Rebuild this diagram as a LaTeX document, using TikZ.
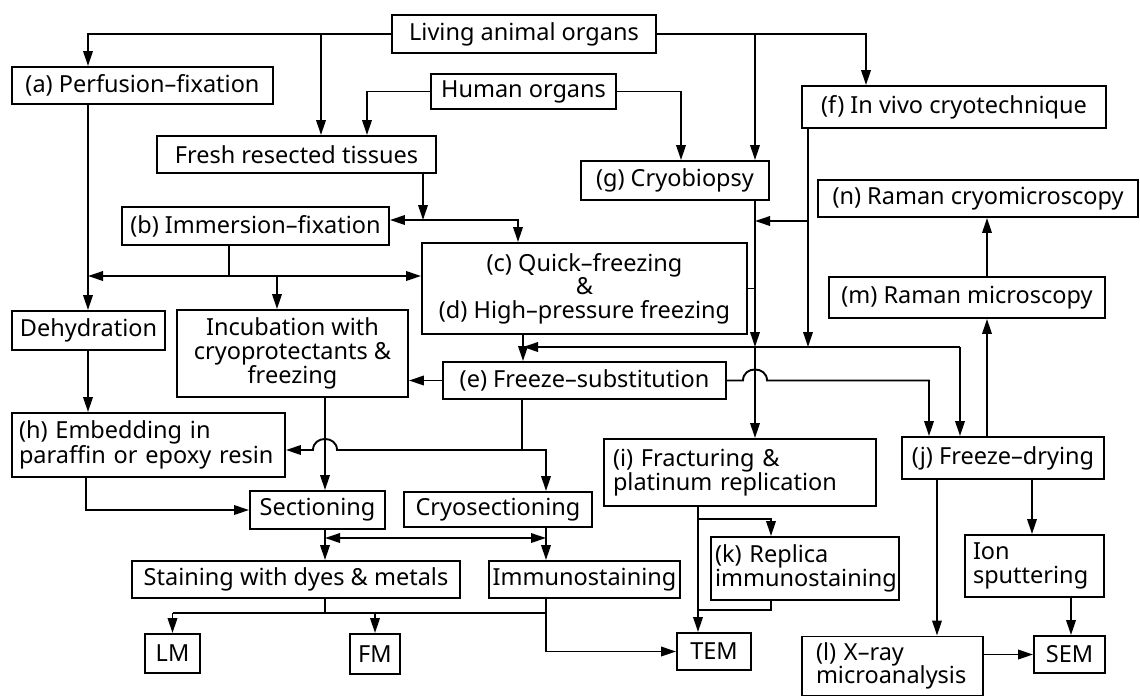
\documentclass[tikz,border=0pt]{standalone}
\usepackage{fontspec}
\setmainfont{Noto Sans}
\usetikzlibrary{arrows.meta}
\begin{document}
\begin{tikzpicture}[x=1pt,y=-1pt,
  box/.style={draw, line width=1.9pt, inner sep=0pt, font=\fontsize{23.5}{23.5}\selectfont},
  lbox/.style={box, align=left, inner xsep=#1},
  ln/.style={line width=1.9pt},
  arr/.style={line width=1.9pt, -{Triangle[length=15pt,width=9.5pt]}},
  darr/.style={line width=1.9pt, {Triangle[length=15pt,width=9.5pt]}-{Triangle[length=15pt,width=9.5pt]}}]
\useasboundingbox (0,0) rectangle (1140,697);

% nodes
\node[box, minimum width=264pt, minimum height=38pt] (living) at (524,34) {Living animal organs};
\node[box, minimum width=261pt, minimum height=37pt] (a) at (142.5,85.5) {(a) Perfusion–fixation};
\node[box, minimum width=185pt, minimum height=35pt] (human) at (523.5,91.5) {Human organs};
\node[box, minimum width=279pt, minimum height=37pt] (fresh) at (296.5,154.5) {Fresh resected tissues};
\node[box, minimum width=188pt, minimum height=39pt] (g) at (675,180.5) {(g) Cryobiopsy};
\node[box, minimum width=304pt, minimum height=42pt] (f) at (954,107) {(f) In vivo cryotechnique};
\node[box, minimum width=320pt, minimum height=37pt] (n) at (978,198.5) {(n) Raman cryomicroscopy};
\node[box, minimum width=267pt, minimum height=38pt] (b) at (255.5,226) {(b) Immersion–fixation};
\node[box, align=center, minimum width=325pt, minimum height=91pt] (cd) at (584.5,288.5) {(c) Quick–freezing\\\&\\(d) High–pressure freezing};
\node[box, minimum width=276pt, minimum height=41pt] (m) at (967,297.5) {(m) Raman microscopy};
\node[box, minimum width=153pt, minimum height=39pt] (dehyd) at (88.5,330.5) {Dehydration};
\node[box, align=center, minimum width=231pt, minimum height=87pt] (incub) at (292.5,353.5) {Incubation with\\cryoprotectants \&\\freezing};
\node[box, minimum width=283pt, minimum height=37pt] (e) at (584.5,380.5) {(e) Freeze–substitution};
\node[lbox=7pt, text width=259pt, minimum height=64pt] (h) at (148.5,445) {(h) Embedding in\\paraffin or epoxy resin};
\node[lbox=9pt, text width=254pt, minimum height=67pt] (i) at (740,472.5) {(i) Fracturing \&\\platinum replication};
\node[box, minimum width=202pt, minimum height=42pt] (j) at (1003,458) {(j) Freeze–drying};
\node[box, minimum width=135pt, minimum height=38pt] (sect) at (317.5,510) {Sectioning};
\node[box, minimum width=188pt, minimum height=35pt] (cryosect) at (498,509.5) {Cryosectioning};
\node[box, minimum width=328pt, minimum height=37pt] (stain) at (296,579.5) {Staining with dyes \& metals};
\node[box, minimum width=191pt, minimum height=37pt] (immuno) at (584.5,579.5) {Immunostaining};
\node[lbox=4pt, text width=180pt, minimum height=63pt] (k) at (805,568.5) {(k) Replica\\immunostaining};
\node[lbox=8pt, text width=123pt, minimum height=62pt] (ion) at (1034.5,566) {Ion\\sputtering};
\node[box, minimum width=55pt, minimum height=39pt] (lm) at (172.5,653.5) {LM};
\node[box, minimum width=50pt, minimum height=40pt] (fm) at (375,654) {FM};
\node[box, minimum width=74pt, minimum height=37pt] (tem) at (714,651.5) {TEM};
\node[lbox=14pt, text width=153pt, minimum height=59pt] (l) at (892.5,666) {(l) X–ray\\microanalysis};
\node[box, minimum width=71pt, minimum height=37pt] (sem) at (1069.5,654.5) {SEM};

% helper coordinates
\coordinate (x86) at (86,0);
\coordinate (x88) at (88,0);
\coordinate (x277) at (277,0);
\coordinate (x321) at (321,0);
\coordinate (x325) at (325,0);
\coordinate (x367) at (367,0);
\coordinate (x518) at (518,0);
\coordinate (x523) at (523,0);
\coordinate (x546) at (546,0);
\coordinate (x681) at (681,0);
\coordinate (x755) at (755,0);
\coordinate (x771) at (771,0);
\coordinate (x808) at (808,0);
\coordinate (x866) at (866,0);
\coordinate (x929) at (929,0);
\coordinate (x937) at (937,0);
\coordinate (x960) at (960,0);
\coordinate (x987) at (987,0);
\coordinate (x1032) at (1032,0);
\coordinate (x1071) at (1071,0);
\coordinate (j1) at (423,220);
\coordinate (j2) at (229,276);
\coordinate (j3) at (522,450);
\coordinate (j4) at (755,347);
\coordinate (j5) at (808,221);
\coordinate (j6) at (698,519);
\coordinate (j7) at (698,610);
\coordinate (j8) at (325,538);
\coordinate (j9) at (546,538);
\coordinate (j10) at (325,613);

% connectors
\draw[arr] (living.west) -| (a.north -| x88);
\draw[arr] (living.west -| x321) -- (fresh.north -| x321);
\draw[arr] (living.east) -| (f.north -| x866);
\draw[arr] (living.east -| x755) -- (g.north -| x755);
\draw[arr] (human.west) -| (fresh.north -| x367);
\draw[arr] (human.east) -| (g.north -| x681);

\draw[arr] (fresh.south -| j1) -- (j1);
\draw[arr] (j1) -- (j1 -| b.east);
\draw[arr] (j1) -| (cd.north -| x518);

\draw[ln] (b.south -| j2) -- (j2);
\draw[arr] (j2) -- (j2 -| x88);
\draw[arr] (j2) -- (j2 -| cd.west);
\draw[arr] (j2 -| x277) -- (incub.north -| x277);

\draw[arr] (a.south -| x88) -- (dehyd.north -| x88);
\draw[arr] (dehyd.south -| x88) -- (h.north -| x88);
\draw[arr] (h.south -| x86) |- (sect.west);
\draw[arr] (incub.south -| x325) -- (sect.north -| x325);
\draw[arr] (e.west) -- (e.west -| incub.east);

\draw[ln] (e.south -| j3) -- (j3);
\draw[arr] (j3) -- (337,450) .. controls (337,435.3) and (313,435.3) .. (313,450) -- (j3 -| h.east);
\draw[arr] (j3) -| (cryosect.north -| x546);

\draw[arr] (cd.south -| x523) -- (e.north -| x523);
\draw[ln] (cd.east) -- (cd.east -| j4);
\draw[arr] (g.south -| j4) -- (j4);
\draw[arr] (j4) -- (i.north -| j4);
\draw[arr] (f.south -| x808) -- (j4 -| x808);
\draw[arr] (j5) -- (j5 -| j4);
\draw[arr] (j4 -| x960) -- (j4 -| x523);
\draw[arr] (j4 -| x960) -- (j.north -| x960);
\draw[arr] (e.east) -- (743,380.5) .. controls (743,365.8) and (767,365.8) .. (767,380.5) -| (j.north -| x929);

\draw[arr] (j.north -| x987) -- (m.south -| x987);
\draw[arr] (m.north -| x987) -- (n.south -| x987);

\draw[arr] (i.south -| j6) -- (tem.north -| j6);
\draw[arr] (j6) -| (k.north -| x771);
\draw[ln] (k.south -| x771) |- (j7);

\draw[arr] (sect.south -| x325) -- (stain.north -| x325);
\draw[arr] (cryosect.south -| x546) -- (immuno.north -| x546);
\draw[darr] (j8) -- (j9);

\draw[ln] (stain.south -| j10) -- (j10);
\draw[ln] (j10 -| lm.north) -- (j10 -| x546);
\draw[arr] (j10 -| lm.north) -- (lm.north);
\draw[arr] (j10 -| fm.north) -- (fm.north);
\draw[arr] (immuno.south -| x546) |- (tem.west);

\draw[arr] (j.south -| x937) -- (l.north -| x937);
\draw[arr] (j.south -| x1032) -- (ion.north -| x1032);
\draw[arr] (ion.south -| x1071) -- (sem.north -| x1071);
\draw[arr] (sem.west -| l.east) -- (sem.west);
\end{tikzpicture}
\end{document}
